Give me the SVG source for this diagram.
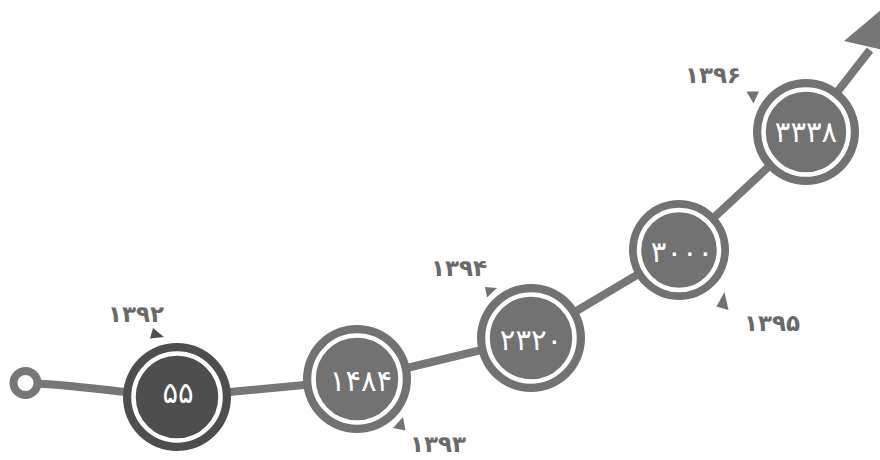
<svg xmlns="http://www.w3.org/2000/svg" width="880" height="460" viewBox="0 0 880 460">
<style>
.line{fill:none;stroke:#777;stroke-width:8;stroke-linejoin:round}
.disk{fill:#727272}
.dark{fill:#4e4e4e}
.ring{fill:none;stroke:#fff;stroke-width:4.5}
.val{font-family:"DejaVu Sans",sans-serif;font-size:29px;fill:#fff;text-anchor:middle}
.year{font-family:"DejaVu Sans",sans-serif;font-size:23px;font-weight:bold;fill:#6a6a6a;text-anchor:middle}
.tail{fill:#727272}
</style>
<rect width="880" height="460" fill="#fff"/>
<g id="connectors">
<path class="line" d="M25,383 C70,384 115,392 177,397 L357,380 L531,338 L679,250 L806,132 L870,50"/>
<polygon fill="#777" points="844,41 900,-6 897,53"/>
<circle cx="25.5" cy="383" r="12" fill="#fff" stroke="#777" stroke-width="8"/>
</g>
<g id="node-1392">
<circle class="dark" cx="177" cy="397" r="54"/>
<circle class="ring" cx="177" cy="397" r="43.5"/>
<polygon class="dark" points="153,328 164,337 150,338.5"/>
<text class="val" x="178" y="403">۵۵</text>
<text class="year" x="136" y="322" fill="#5a5a5a">۱۳۹۲</text>
</g>
<g id="node-1393">
<circle class="disk" cx="357" cy="379" r="54"/>
<circle class="ring" cx="357" cy="379" r="43.5"/>
<polygon class="tail" points="403,417 405.5,430.5 393,428"/>
<text class="val" x="361" y="391">۱۴۸۴</text>
<text class="year" x="438" y="452">۱۳۹۳</text>
</g>
<g id="node-1394">
<circle class="disk" cx="531" cy="338" r="54"/>
<circle class="ring" cx="531" cy="338" r="43.5"/>
<polygon class="tail" points="485,287 497,288 487,297.5"/>
<text class="val" x="531" y="350">۲۳۲۰</text>
<text class="year" x="459" y="276">۱۳۹۴</text>
</g>
<g id="node-1395">
<circle class="disk" cx="679" cy="250" r="50"/>
<circle class="ring" cx="679" cy="250" r="40"/>
<polygon class="tail" points="724.5,292 728.5,310 716.5,306.5"/>
<text class="val" x="682" y="262">۳۰۰۰</text>
<text class="year" x="772" y="331">۱۳۹۵</text>
</g>
<g id="node-1396">
<circle class="disk" cx="806" cy="132" r="53"/>
<circle class="ring" cx="806" cy="132" r="42.5"/>
<polygon class="tail" points="746.5,91.5 759,91.5 753.5,103.5"/>
<text class="val" x="806" y="142">۳۳۳۸</text>
<text class="year" x="713" y="83">۱۳۹۶</text>
</g>
</svg>
